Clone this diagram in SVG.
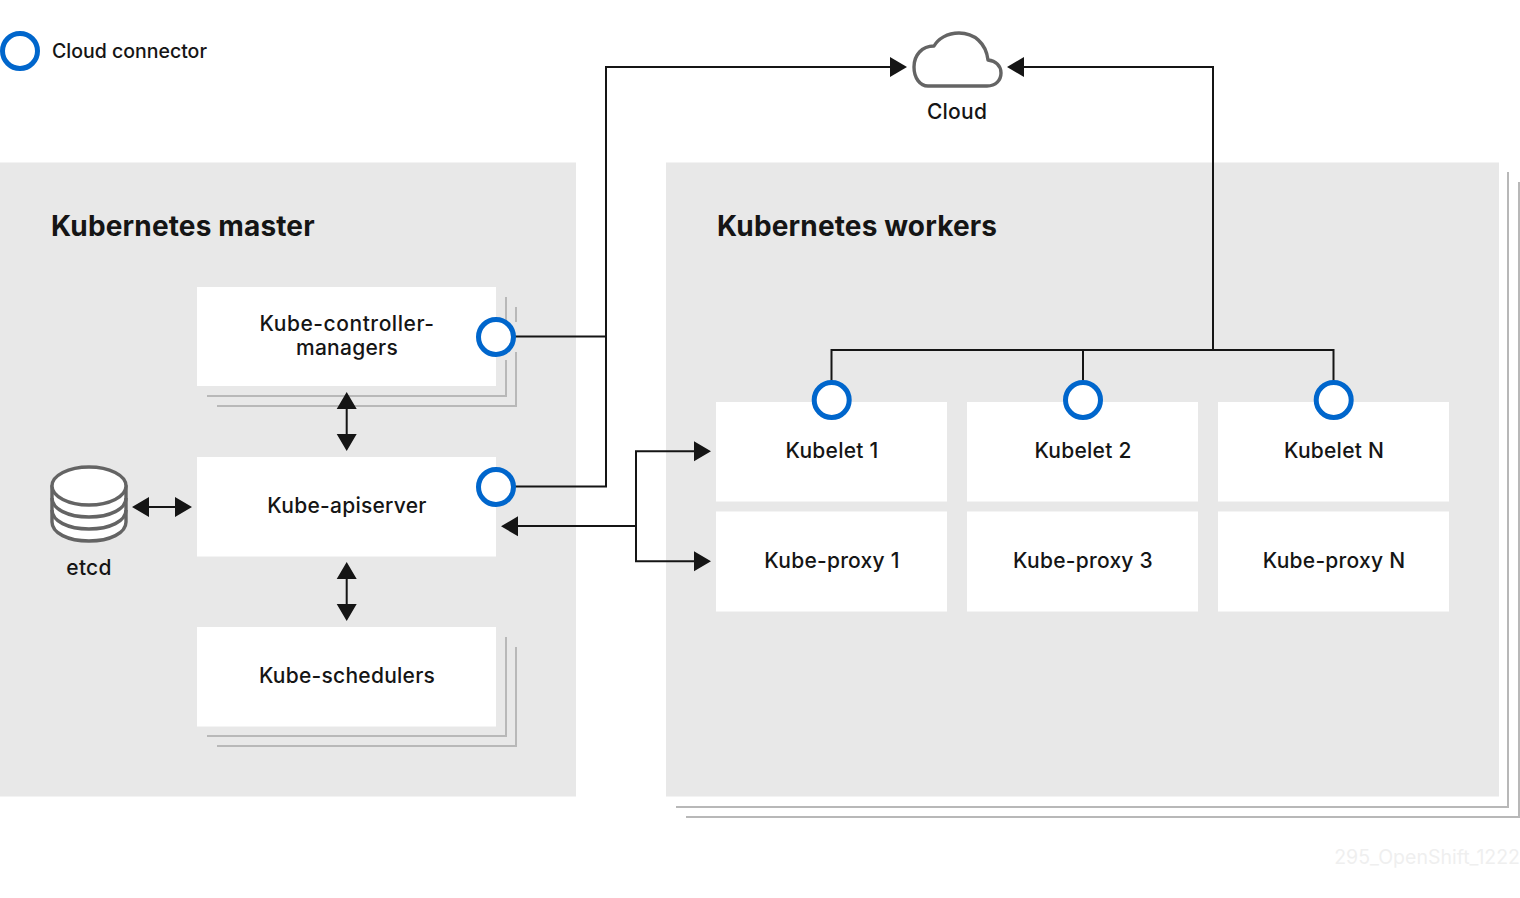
<svg xmlns="http://www.w3.org/2000/svg" width="1520" height="898" viewBox="0 0 1520 898">
<style>
text{font-family:Inter,"Open Sans","Liberation Sans",sans-serif;fill:#151515}
.l{font-size:21px;text-anchor:middle;font-weight:500;letter-spacing:.25px}
.h{font-size:28px;font-weight:700;letter-spacing:.15px}
.p{fill:#e8e8e8}
.b{fill:#fff}
.s{fill:none;stroke:#b8b8b8;stroke-width:2}
.c{fill:#fff;stroke:#06c;stroke-width:5}
.k{fill:none;stroke:#151515;stroke-width:2}
.a{fill:#151515}
.i{fill:#fff;stroke:#646464;stroke-width:3.4;stroke-linejoin:round}
</style>
<rect width="1520" height="898" fill="#fff"/>
<g id="legend"><circle class="c" cx="20" cy="51" r="17.5"/><text class="l" x="52" y="58" style="text-anchor:start;font-size:19.5px;letter-spacing:0">Cloud connector</text></g>
<g id="master"><rect class="p" x="0" y="162.5" width="576" height="634"/><text class="h" x="51" y="236">Kubernetes master</text></g>
<g id="workers">
<path class="s" d="M1508 172V807H676M1519 182V817H686"/>
<rect class="p" x="666" y="162.5" width="833" height="634"/><text class="h" x="717" y="236">Kubernetes workers</text></g>
<g id="kube-controller-managers">
<path class="s" d="M506 297V330M506 360V396H207M516 307V322M516 352V406H217"/>
<rect class="b" x="197" y="287" width="299" height="99"/>
<text class="l" x="347" y="331" style="letter-spacing:.55px">Kube-controller-</text><text class="l" x="347" y="355">managers</text>
</g>
<g id="kube-apiserver"><rect class="b" x="197" y="457" width="299" height="99.5"/><text class="l" x="347" y="513">Kube-apiserver</text></g>
<g id="kube-schedulers"><path class="s" d="M506 637V736H207M516 647V746H217"/><rect class="b" x="197" y="627" width="299" height="99.5"/><text class="l" x="347" y="683">Kube-schedulers</text></g>
<g id="etcd">
<path class="i" d="M52 486V522C52 533 68 541 89 541S126 533 126 522V486Z"/>
<path class="i" style="fill:none" d="M52 498C52 509 68 517 89 517S126 509 126 498M52 510C52 521 68 529 89 529S126 521 126 510"/>
<ellipse class="i" cx="89" cy="486" rx="37" ry="19"/>
<text class="l" x="89" y="575">etcd</text></g>
<g id="cloud"><path class="i" d="M928 86H987C996 86 1001 80 1001 73C1001 66 996 61 988 60C986 43 974 33 959 33C947 33 938 39 934 46C922 46 914 55 914 67C914 78 920 86 928 86Z"/><text class="l" x="957" y="119">Cloud</text></g>
<g id="kubelet-1"><rect class="b" x="716" y="402" width="231" height="99.5"/><text class="l" x="832" y="458">Kubelet 1</text></g>
<g id="kubelet-2"><rect class="b" x="967" y="402" width="231" height="99.5"/><text class="l" x="1083" y="458">Kubelet 2</text></g>
<g id="kubelet-n"><rect class="b" x="1218" y="402" width="231" height="99.5"/><text class="l" x="1334" y="458">Kubelet N</text></g>
<g id="kube-proxy-1"><rect class="b" x="716" y="511.5" width="231" height="100"/><text class="l" x="832" y="568">Kube-proxy 1</text></g>
<g id="kube-proxy-3"><rect class="b" x="967" y="511.5" width="231" height="100"/><text class="l" x="1083" y="568">Kube-proxy 3</text></g>
<g id="kube-proxy-n"><rect class="b" x="1218" y="511.5" width="231" height="100"/><text class="l" x="1334" y="568">Kube-proxy N</text></g>
<g id="connectors">
<path class="k" d="M515 336.5H606M515 486.5H606V67H892"/>
<path class="a" d="M907 67L890 57V77Z"/>
<path class="k" d="M831.5 381V350H1333.5V381M1083 350V381M1213 350V67H1022"/>
<path class="a" d="M1007 67L1024 57V77Z"/>
<path class="k" d="M696 451.3H636V561.3H696M636 526H516"/>
<path class="a" d="M711 451.3L694 441.3V461.3ZM711 561.3L694 551.3V571.3ZM501 526.3L518 516.3V536.3Z"/>
<path class="k" d="M346.7 405V438M346.7 575V608M145 507H180"/>
<path class="a" d="M346.7 392L336.7 409H356.7ZM346.7 451L336.7 434H356.7ZM346.7 562L336.7 579H356.7ZM346.7 621L336.7 604H356.7ZM132 507L149 497V517ZM192 507L175 497V517Z"/>
</g>
<g id="cloud-connectors">
<circle class="c" cx="496" cy="337" r="17.5"/><circle class="c" cx="496" cy="487" r="17.5"/><circle class="c" cx="831.7" cy="400" r="17.5"/><circle class="c" cx="1083" cy="400" r="17.5"/><circle class="c" cx="1333.7" cy="400" r="17.5"/>
</g>
<text x="1520" y="864" text-anchor="end" style="fill:#efefef;font-size:19.5px;font-weight:400">295_OpenShift_1222</text>
</svg>
